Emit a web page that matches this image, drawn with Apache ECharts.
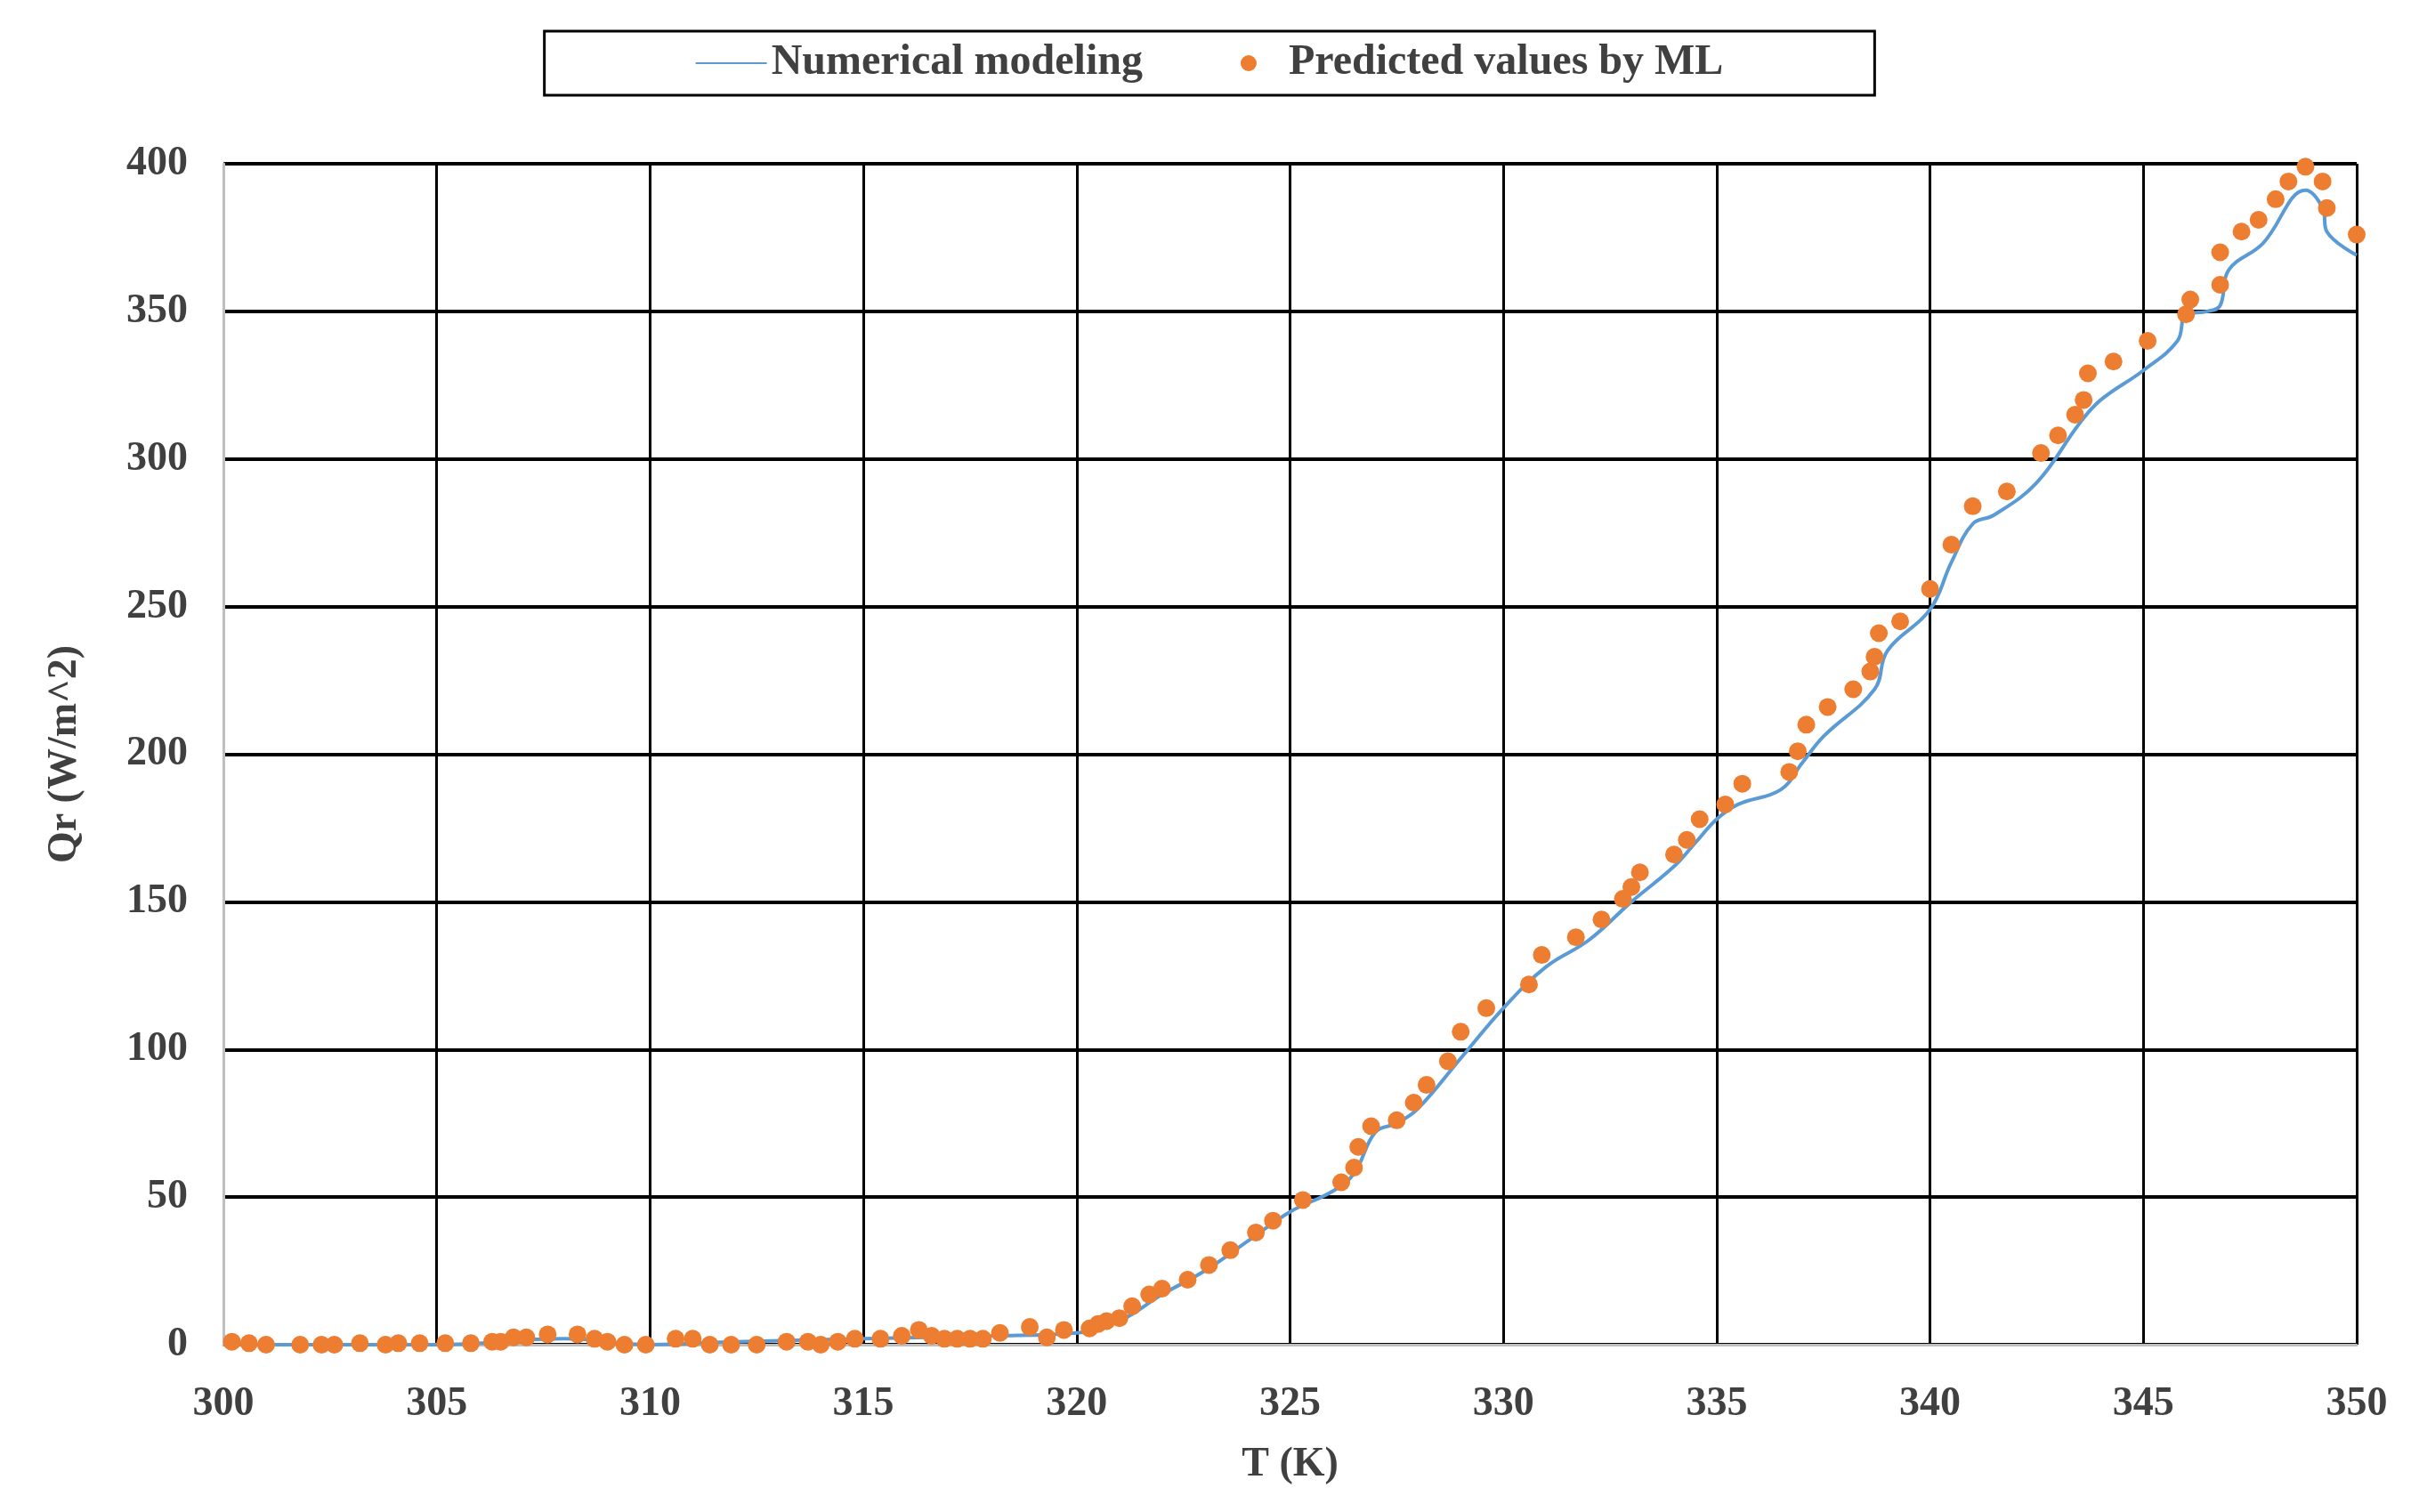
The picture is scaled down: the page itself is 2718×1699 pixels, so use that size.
<!DOCTYPE html>
<html><head><meta charset="utf-8">
<script src="https://cdn.jsdelivr.net/npm/echarts@6/dist/echarts.min.js"></script>
<style>html,body{margin:0;padding:0;background:#fff}#c{width:2718px;height:1699px}</style>
</head><body><div id="c"></div>
<script>
const lineT = [300,305,308,310,312,315,318,320,321,322,323,324,325,326,326.5,327,327.5,328,329,330,331,332,333,334,334.5,335,335.5,336.5,337,337.5,338.7,339,340,340.5,341,341.5,342.5,343.5,344,345,345.8,346,346.5,346.8,347,347.8,348.8,349.2,349.3,350];
const lineQ = [0,0,2,0,1,2,3,4,8,17,25,35,45,52,58,72,75,80,97,114,128,137,150,162,170,178,183,188,197,206,222,235,249,265,278,281,292,312,320,330,340,349,350,352,364,373,391,385,377,369];
const mlT = [300.2,300.6,301,301.8,302.3,302.6,303.2,303.8,304.1,304.6,305.2,305.8,306.3,306.5,306.8,307.1,307.6,308.3,308.7,309,309.4,309.9,310.6,311,311.4,311.9,312.5,313.2,313.7,314,314.4,314.8,315.4,315.9,316.3,316.6,316.9,317.2,317.5,317.8,318.2,318.9,319.3,319.7,320.3,320.5,320.7,321,321.3,321.7,322,322.6,323.1,323.6,324.2,324.6,325.3,326.2,326.5,326.6,326.9,327.5,327.9,328.2,328.7,329,329.6,330.6,330.9,331.7,332.3,332.8,333,333.2,334,334.3,334.6,335.2,335.6,336.7,336.9,337.1,337.6,338.2,338.6,338.7,338.8,339.3,340,340.5,341,341.8,342.6,343,343.4,343.6,343.7,344.3,345.1,346,346.1,346.8,346.8,347.3,347.7,348.1,348.4,348.8,349.2,349.3,350];
const mlQ = [1,0.5,0,0,0,0,0.5,0,0.5,0.5,0.5,0.5,1,1,2.5,2.5,3.5,3.5,2,1,0,0,2,2,0,0,0,1,1,0,1,2,2,3,5,3,2,2,2,2,4,6,2.5,5,5.5,7,8,9,13,17,19,22,27,32,38,42,49,55,60,67,74,76,82,88,96,106,114,122,132,138,144,151,155,160,166,171,178,183,190,194,201,210,216,222,228,233,241,245,256,271,284,289,302,308,315,320,329,333,340,349,354,359,370,377,381,388,394,399,394,385,376];
const xTicks = [300,305,310,315,320,325,330,335,340,345,350];

const font = '"Liberation Serif", "DejaVu Serif", serif';
const chart = echarts.init(document.getElementById('c'));
chart.setOption({
  animation:false,
  backgroundColor:'#fff',
  legend:{
    top:35, left:'center', width:2000,
    padding:[12,170,12,170], itemGap:110,
    borderColor:'#000', borderWidth:3,
    itemWidth:80, itemHeight:18,
    textStyle:{fontFamily:font,fontWeight:'bold',fontSize:48,color:'#404040'},
    data:[{name:'Numerical modeling',icon:'path://M0,9 L80,9 L80,11 L0,11 Z'},{name:'Predicted values by ML',icon:'circle'}]
  },
  grid:{left:251,right:70,top:184,bottom:188},
  xAxis:{
    type:'value', min:300, max:350, interval:5,
    name:'T (K)', nameLocation:'middle', nameGap:112,
    nameTextStyle:{fontFamily:font,fontWeight:'bold',fontSize:46,color:'#404040'},
    axisLine:{lineStyle:{color:'#bfbfbf',width:3}},
    axisTick:{show:false},
    axisLabel:{fontFamily:font,fontWeight:'bold',fontSize:46,color:'#404040',margin:44,
      formatter:v=>xTicks.includes(v)?String(v):''},
    splitLine:{show:true,lineStyle:{color:'#000',width:3}}
  },
  yAxis:{
    type:'value', min:0, max:400, interval:50,
    name:'Qr (W/m^2)', nameLocation:'middle', nameGap:155,
    nameTextStyle:{fontFamily:font,fontWeight:'bold',fontSize:46,color:'#404040'},
    axisLine:{show:true,lineStyle:{color:'#bfbfbf',width:3}},
    axisTick:{show:false},
    axisLabel:{fontFamily:font,fontWeight:'bold',fontSize:46,color:'#404040',margin:40},
    splitLine:{show:true,lineStyle:{color:'#000',width:4}}
  },
  series:[
    {name:'Numerical modeling',type:'line',smooth:0.4,showSymbol:false,
     lineStyle:{color:'#5b9bd5',width:4},itemStyle:{color:'#5b9bd5'},
     data:lineT.map((t,i)=>[t,lineQ[i]]),z:3},
    {name:'Predicted values by ML',type:'scatter',symbolSize:20,
     itemStyle:{color:'#ed7d31',opacity:1},
     data:mlT.map((t,i)=>[t,mlQ[i]]),z:4}
  ]
});
</script></body></html>
